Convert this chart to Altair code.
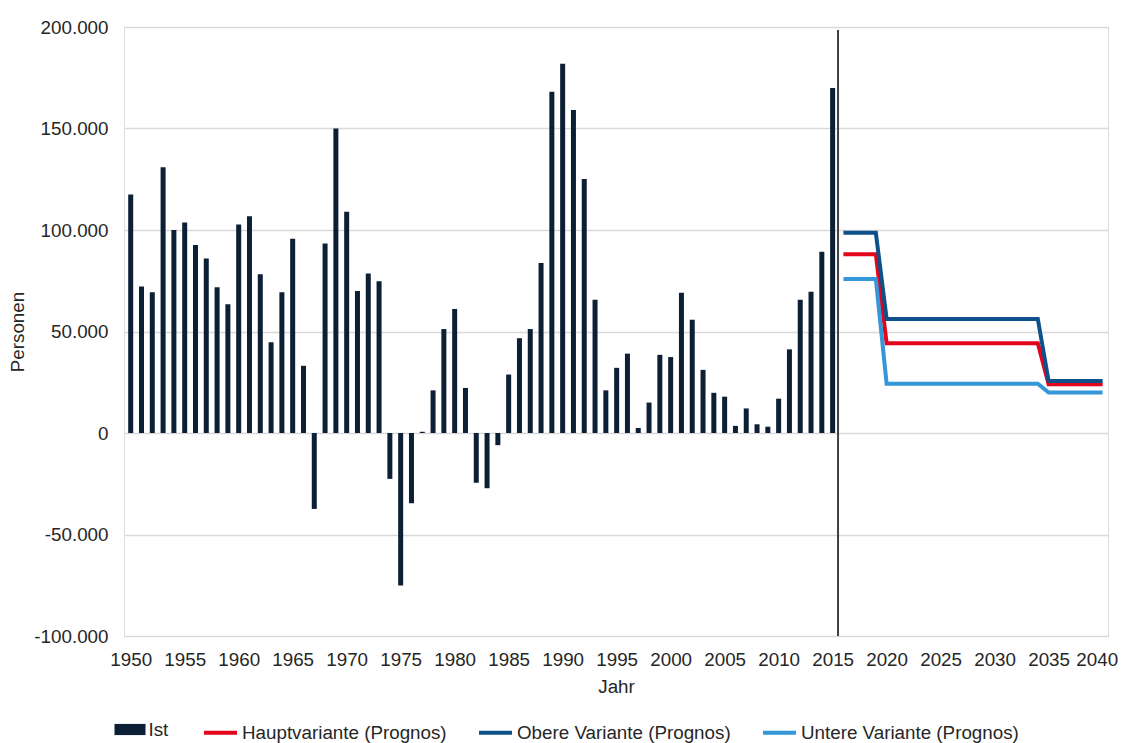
import altair as alt
import pandas as pd

# ---- data ----
ist_years = list(range(1950, 2016))
ist_values = [
    117500, 72200, 69300, 130900, 100000, 103700, 92600, 86000, 71800, 63400,
    102700, 106800, 78200, 44700, 69300, 95700, 33100, -37400, 93400, 150000,
    109000, 70000, 78600, 74700, -22600, -75100, -34600, 600, 21000, 51200,
    61100, 22200, -24500, -27200, -6000, 28800, 46700, 51200, 83700, 168100,
    181900, 159100, 125100, 65600, 21000, 32100, 39100, 2500, 15000, 38500,
    37400, 69100, 55800, 31100, 19800, 17900, 3500, 12100, 4300, 3100,
    16900, 41200, 65600, 69600, 89300, 170000,
]
prog_years = list(range(2016, 2041))
haupt = [88000] * 4 + [44200] * 15 + [24000] * 6
obere = [98700] * 4 + [56200] * 15 + [25600] * 6
untere = [75900] * 4 + [24300] * 15 + [19900] * 6
series_names = ["Hauptvariante (Prognos)", "Obere Variante (Prognos)", "Untere Variante (Prognos)"]
series_colors = ["#e3051b", "#0d508a", "#3596d8"]
bar_name = "Ist"
bar_color = "#0c1f35"
x_ticks = list(range(1950, 2041, 5))
y_ticks = [-100000, -50000, 0, 50000, 100000, 150000, 200000]
cut_year = 2015.5

FONT = "Liberation Sans"
TXT = "#262626"
FS = 18.8

bars_df = pd.DataFrame({"year": ist_years, "value": ist_values, "series": bar_name})
lines_df = pd.concat([
    pd.DataFrame({"year": prog_years, "value": vals, "series": name})
    for name, vals in zip(series_names, [haupt, obere, untere])
])

x_scale = alt.Scale(domain=[1949.38, 2040.5], nice=False, zero=False, padding=0)
y_scale = alt.Scale(domain=[-100000, 200000], nice=False, padding=0)

x_axis = alt.Axis(values=x_ticks, format="d", grid=False, domain=False, ticks=False, tickSize=0,
                  labelFontSize=FS, labelFont=FONT, labelColor=TXT, labelPadding=14,
                  title="Jahr", titleFontSize=FS, titleFont=FONT, titleColor=TXT,
                  titleFontWeight="normal", titlePadding=9,
                  labelFlush=6, labelFlushOffset=15)
y_axis = alt.Axis(values=y_ticks, grid=True, gridColor="#d9d9d9", gridWidth=1.3, domain=False,
                  ticks=False, tickSize=0, labelFontSize=FS, labelFont=FONT, labelColor=TXT,
                  labelPadding=16,
                  labelExpr="(datum.value < 0 ? '-' : '') + replace(format(abs(datum.value), ','), ',', '.')",
                  title="Personen", titleFontSize=FS, titleFont=FONT, titleColor=TXT,
                  titleFontWeight="normal", titlePadding=6)

legend_common = dict(title=None, orient="none", direction="horizontal", padding=0,
                     labelOffset=3, labelFontSize=FS, labelFont=FONT, labelColor=TXT,
                     labelLimit=400)

bars = alt.Chart(bars_df).mark_bar(width=5).encode(
    x=alt.X("year:Q", scale=x_scale, axis=x_axis),
    y=alt.Y("value:Q", scale=y_scale, axis=y_axis),
    y2=alt.datum(0),
    fill=alt.Fill("series:N", scale=alt.Scale(domain=[bar_name], range=[bar_color]),
                  legend=alt.Legend(legendX=-9.5, legendY=687,
                                    symbolType="M-1,-0.36H1V0.36H-1Z", symbolSize=961,
                                    symbolStrokeWidth=0, **legend_common)),
)

rule_df = pd.DataFrame({"x": [cut_year], "y": [198500], "y2": [-100000]})
rule = alt.Chart(rule_df).mark_rule(color="#404040", strokeWidth=2).encode(
    x="x:Q", y="y:Q", y2="y2:Q"
)

lines = alt.Chart(lines_df).mark_line(strokeWidth=4, interpolate="linear").encode(
    x="year:Q",
    y="value:Q",
    stroke=alt.Stroke("series:N", scale=alt.Scale(domain=series_names, range=series_colors),
                      sort=series_names,
                      legend=alt.Legend(legendX=78, legendY=687,
                                        symbolType="stroke", symbolSize=1089,
                                        symbolStrokeWidth=4, columnPadding=24,
                                        **legend_common)),
)

chart = alt.layer(bars, rule, lines).properties(
    width=984, height=609,
    autosize=alt.AutoSizeParams(type="none"),
    padding={"left": 116, "top": 19, "right": 10, "bottom": 107},
).configure_view(stroke=None).configure(font=FONT)

chart.save("out.html", embed_options={"renderer": "svg", "actions": False})
